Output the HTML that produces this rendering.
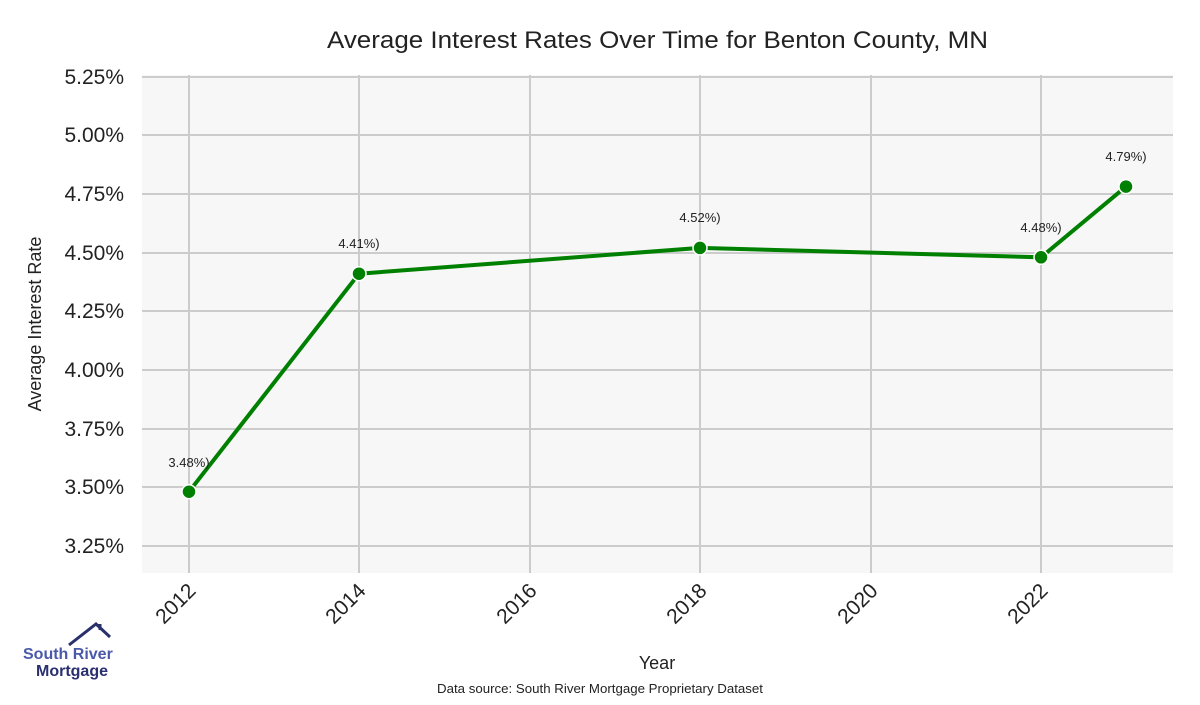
<!DOCTYPE html>
<html><head><style>body{margin:0;background:#fff}</style></head><body>
<svg width="1200" height="700" xmlns="http://www.w3.org/2000/svg" font-family="Liberation Sans, sans-serif">
<rect width="1200" height="700" fill="#fff"/>
<rect x="142" y="75" width="1031" height="498" fill="#f7f7f7"/>
<g stroke="#cccccc" stroke-width="2">
<line x1="142" x2="1173" y1="77" y2="77"/><line x1="142" x2="1173" y1="135" y2="135"/>
<line x1="142" x2="1173" y1="194" y2="194"/><line x1="142" x2="1173" y1="253" y2="253"/>
<line x1="142" x2="1173" y1="311" y2="311"/><line x1="142" x2="1173" y1="370" y2="370"/>
<line x1="142" x2="1173" y1="429" y2="429"/><line x1="142" x2="1173" y1="487" y2="487"/>
<line x1="142" x2="1173" y1="546" y2="546"/>
<line x1="189" x2="189" y1="75" y2="573"/><line x1="359" x2="359" y1="75" y2="573"/>
<line x1="530" x2="530" y1="75" y2="573"/><line x1="700" x2="700" y1="75" y2="573"/>
<line x1="871" x2="871" y1="75" y2="573"/><line x1="1041" x2="1041" y1="75" y2="573"/>
</g>
<g font-size="21" fill="#222" text-anchor="end">
<text x="124" y="84">5.25%</text><text x="124" y="142">5.00%</text><text x="124" y="201">4.75%</text>
<text x="124" y="260">4.50%</text><text x="124" y="318">4.25%</text><text x="124" y="377">4.00%</text>
<text x="124" y="436">3.75%</text><text x="124" y="494">3.50%</text><text x="124" y="553">3.25%</text>
</g>
<g font-size="21" fill="#222" text-anchor="end">
<text transform="translate(197,592) rotate(-45)">2012</text>
<text transform="translate(367,592) rotate(-45)">2014</text>
<text transform="translate(538,592) rotate(-45)">2016</text>
<text transform="translate(708,592) rotate(-45)">2018</text>
<text transform="translate(879,592) rotate(-45)">2020</text>
<text transform="translate(1049,592) rotate(-45)">2022</text>
</g>
<text x="327" y="48" font-size="24" fill="#222" textLength="661" lengthAdjust="spacingAndGlyphs">Average Interest Rates Over Time for Benton County, MN</text>
<text x="657" y="669" font-size="18" fill="#222" text-anchor="middle">Year</text>
<text transform="translate(41,324) rotate(-90)" font-size="18" fill="#222" text-anchor="middle">Average Interest Rate</text>
<text x="437" y="693" font-size="13" fill="#222" textLength="326" lengthAdjust="spacingAndGlyphs">Data source: South River Mortgage Proprietary Dataset</text>
<polyline points="189,491.7 359,273.7 700,247.9 1041,257.3 1126,186.6" fill="none" stroke="#008000" stroke-width="4"/>
<g fill="#008000" stroke="#fff" stroke-width="1.5">
<circle cx="189" cy="491.7" r="7"/><circle cx="359" cy="273.7" r="7"/><circle cx="700" cy="247.9" r="7"/>
<circle cx="1041" cy="257.3" r="7"/><circle cx="1126" cy="186.6" r="7"/>
</g>
<g font-size="13" fill="#222" text-anchor="middle">
<text x="189" y="467">3.48%)</text><text x="359" y="248">4.41%)</text><text x="700" y="222">4.52%)</text>
<text x="1041" y="232">4.48%)</text><text x="1126" y="161">4.79%)</text>
</g>
<polyline points="69,645 96,624 110,637" fill="none" stroke="#2a2f6e" stroke-width="3"/>
<line x1="100" y1="624" x2="100" y2="630" stroke="#2a2f6e" stroke-width="3"/>
<text x="23" y="659" font-size="16" font-weight="bold" fill="#4a5aa8">South River</text>
<text x="36" y="676" font-size="16" font-weight="bold" fill="#2a2f6e">Mortgage</text>
</svg>
</body></html>
